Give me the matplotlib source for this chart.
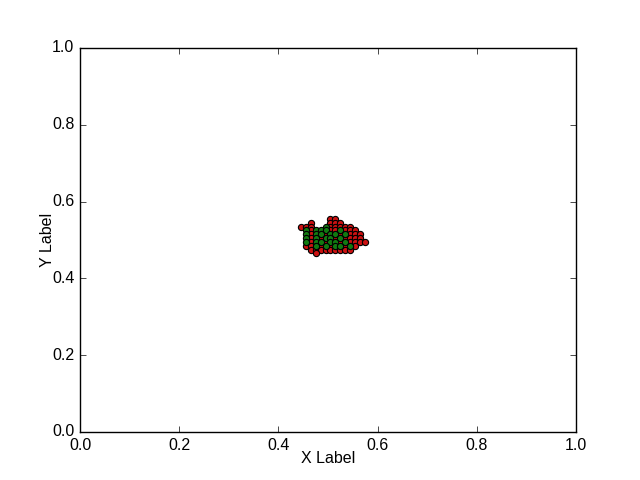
import matplotlib

matplotlib.use("Agg")
import matplotlib.pyplot as plt

plt.style.use("classic")
plt.rcParams["font.family"] = ["Liberation Sans", "DejaVu Sans"]

RED = "#cc1111"
GREEN = "#117a11"

red_x = [0.505, 0.515,
         0.465, 0.505, 0.515, 0.525,
         0.445, 0.455, 0.465, 0.505, 0.515, 0.525, 0.535, 0.545,
         0.465, 0.505, 0.515, 0.535, 0.545, 0.555,
         0.465, 0.495, 0.525, 0.545, 0.555, 0.565,
         0.465, 0.485, 0.515, 0.535, 0.545, 0.555, 0.565,
         0.465, 0.495, 0.525, 0.545, 0.555, 0.565, 0.575,
         0.455, 0.465, 0.485, 0.505, 0.535, 0.555,
         0.465, 0.475, 0.485, 0.495, 0.505, 0.515, 0.525, 0.535, 0.545,
         0.475]
red_y = [0.555, 0.555,
         0.545, 0.545, 0.545, 0.545,
         0.535, 0.535, 0.535, 0.535, 0.535, 0.535, 0.535, 0.535,
         0.525, 0.525, 0.525, 0.525, 0.525, 0.525,
         0.515, 0.515, 0.515, 0.515, 0.515, 0.515,
         0.505, 0.505, 0.505, 0.505, 0.505, 0.505, 0.505,
         0.495, 0.495, 0.495, 0.495, 0.495, 0.495, 0.495,
         0.485, 0.485, 0.485, 0.485, 0.485, 0.485,
         0.475, 0.475, 0.475, 0.475, 0.475, 0.475, 0.475, 0.475, 0.475,
         0.465]

green_x = [0.495,
           0.455, 0.475, 0.485, 0.495, 0.525,
           0.455, 0.475, 0.485, 0.505, 0.515, 0.535,
           0.455, 0.475, 0.495, 0.505, 0.525,
           0.455, 0.475, 0.485, 0.505, 0.515, 0.535,
           0.475, 0.495, 0.515, 0.525, 0.545]
green_y = [0.535,
           0.525, 0.525, 0.525, 0.525, 0.525,
           0.515, 0.515, 0.515, 0.515, 0.515, 0.515,
           0.505, 0.505, 0.505, 0.505, 0.505,
           0.495, 0.495, 0.495, 0.495, 0.495, 0.495,
           0.485, 0.485, 0.485, 0.485, 0.485]

fig, ax = plt.subplots(figsize=(6.4, 4.8), dpi=100)
fig.patch.set_facecolor("white")
ax.scatter(red_x, red_y, s=20, c=RED, edgecolors="black", linewidths=0.8)
ax.scatter(green_x, green_y, s=20, c=GREEN, edgecolors="black", linewidths=0.8)
ax.set_xlim(0, 1)
ax.set_ylim(0, 1)
ax.tick_params(labelsize=11.5)
ax.set_xlabel("X Label", fontsize=11.5, labelpad=-1)
ax.set_ylabel("Y Label", fontsize=11.5, labelpad=-2)
fig.savefig("out.png", dpi=100, facecolor="white")
